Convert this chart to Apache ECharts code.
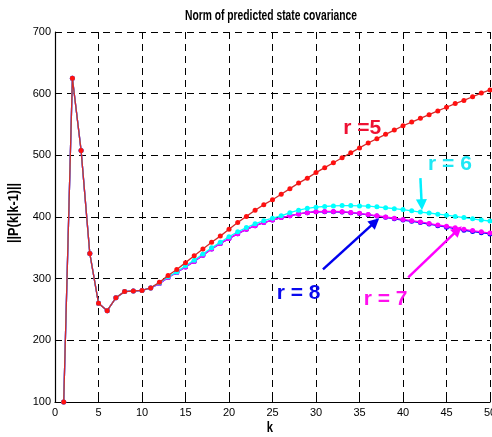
<!DOCTYPE html>
<html>
<head>
<meta charset="utf-8">
<script src="https://cdn.jsdelivr.net/npm/echarts@6/dist/echarts.min.js"></script>
<style>
  html, body { margin: 0; padding: 0; background: #fff; }
  #chart { width: 492px; height: 437px; }
</style>
</head>
<body>
<div id="chart"></div>
<script>
// Norm of the predicted state covariance ||P(k|k-1)|| for k = 1..50, one series per r
const r5 = [100, 625, 508, 341, 260, 248, 269, 279, 280, 281, 285,
  294, 305, 315, 326, 337, 348, 359, 369, 380, 391, 401, 411, 420, 428,
  437, 446, 455, 463, 472, 480, 488, 496, 504, 512, 520, 527, 534, 541, 548,
  554, 560, 566, 572, 578, 584, 589, 595, 601, 606];
const r6 = [100, 625, 508, 341, 260, 248, 269, 279, 280, 281, 285,
  293, 303, 311, 321, 330, 340, 350, 359, 368, 376, 383, 389, 394, 398,
  402, 407, 411, 414, 416, 417, 418, 418.5, 418.5, 418, 417.5, 416.5, 415, 413.5, 412,
  410, 408, 406.5, 404.5, 403, 401, 399, 397, 395, 393.5];
const r7 = [100, 625, 508, 341, 260, 248, 269, 279, 280, 281, 285,
  292, 302, 310, 319, 328, 338, 348, 357, 365, 373, 380, 386, 391, 395,
  399, 402, 405, 407, 408.5, 409, 409, 408.5, 407.5, 406, 404, 402, 400, 398, 396,
  394, 392, 389.5, 387, 385, 382.5, 380, 378, 376, 374];
const r8 = [100, 625, 508, 341, 260, 248, 269, 279, 280, 281, 285,
  292, 302, 310, 319, 328, 338, 348, 357, 365, 373, 380, 386, 391, 395,
  399, 402, 405, 407, 408.5, 408.5, 408.5, 408, 407, 405.5, 403.5, 401.5, 399.5, 397, 395,
  393, 391, 388.5, 386, 383.5, 381, 378.5, 376.5, 374.5, 372.5];

// axis ranges and tick spacing
const xRange = [0, 50], xStep = 5;
const yRange = [100, 700], yStep = 100;

// callout texts and arrows, in data coordinates [k, value]
const notes = [
  { text: 'r =5',  at: [35.3, 544], color: '#ee1133' },
  { text: 'r = 6', at: [45.4, 486], color: '#1ee8f5' },
  { text: 'r = 8', at: [28.0, 277], color: '#0a0aee' },
  { text: 'r = 7', at: [38.0, 266], color: '#ff10ee' }
];
const arrow6 = [[42.0, 463], [42.15, 420]];
const arrow8 = [[30.8, 315], [36.8, 392]];
const arrow7 = [[40.6, 302], [46.3, 379]];

const toPairs = arr => arr.map((v, i) => [i + 1, v]);

function arrowLine(seg, color) {
  return {
    silent: true,
    animation: false,
    symbol: ['none', 'triangle'],
    symbolSize: 11,
    label: { show: false },
    lineStyle: { color: color, width: 2.5, type: 'solid' },
    data: [[{ coord: seg[0] }, { coord: seg[1] }]]
  };
}

function lineSeries(name, data, lineColor, dotColor, z, size) {
  return {
    name: name,
    type: 'line',
    data: toPairs(data),
    z: z,
    symbol: 'circle',
    symbolSize: size,
    showSymbol: true,
    lineStyle: { color: lineColor, width: 1.3 },
    itemStyle: { color: dotColor },
    animation: false
  };
}

const chart = echarts.init(document.getElementById('chart'), null, { renderer: 'canvas' });

const tickFont = { color: '#000', fontSize: 11, fontFamily: 'Liberation Sans, Arial, sans-serif' };
const dashed = { color: '#000', width: 1, type: [7, 5] };

const s8 = lineSeries('r = 8', r8, '#0000ff', '#0000ff', 2, 5);
s8.markLine = arrowLine(arrow8, '#0000ee');
const s7 = lineSeries('r = 7', r7, '#ff00ff', '#ff00ff', 3, 5);
s7.markLine = arrowLine(arrow7, '#ff00ff');
const s6 = lineSeries('r = 6', r6, '#00ffff', '#00ffff', 4, 5);
s6.markLine = arrowLine(arrow6, '#00f0ff');
const s5 = lineSeries('r = 5', r5, '#d42a2a', '#ff1010', 5, 5);

chart.setOption({
  backgroundColor: '#fff',
  animation: false,
  grid: { left: 55, right: 2, top: 32, bottom: 35, containLabel: false, outerBoundsMode: 'none' },
  xAxis: {
    type: 'value', min: xRange[0], max: xRange[1], interval: xStep,
    axisLine: { show: true, onZero: false, lineStyle: { color: '#000', width: 1.2 } },
    axisTick: { show: true, inside: true, length: 5, lineStyle: { color: '#000' } },
    axisLabel: Object.assign({ margin: 5 }, tickFont),
    splitLine: { show: true, lineStyle: dashed }
  },
  yAxis: {
    type: 'value', min: yRange[0], max: yRange[1], interval: yStep,
    axisLine: { show: true, onZero: false, lineStyle: { color: '#000', width: 1.2 } },
    axisTick: { show: true, inside: true, length: 5, lineStyle: { color: '#000' } },
    axisLabel: Object.assign({ margin: 4 }, tickFont),
    splitLine: { show: true, lineStyle: dashed }
  },
  series: [s8, s7, s6, s5]
});

// narrow bold captions: measure, then squeeze horizontally to the wanted width
const ctx = document.createElement('canvas').getContext('2d');
function narrowText(str, font, width) {
  ctx.font = font;
  return width / ctx.measureText(str).width;
}
const capFont = 'bold 15px "Liberation Sans", Arial, sans-serif';
const titleStr = 'Norm of predicted state covariance';
const yNameStr = '||P(k|k-1)||';

const graphics = [
  {
    type: 'text', x: 271, y: 16, scaleX: narrowText(titleStr, capFont, 172), z: 10,
    style: { text: titleStr, font: capFont, fill: '#000', textAlign: 'center', textVerticalAlign: 'middle' }
  },
  {
    type: 'text', x: 270, y: 428, scaleX: 0.75, z: 10,
    style: { text: 'k', font: capFont, fill: '#000', textAlign: 'center', textVerticalAlign: 'middle' }
  },
  {
    type: 'text', x: 14, y: 213, rotation: Math.PI / 2, scaleX: narrowText(yNameStr, capFont, 60), z: 10,
    style: { text: yNameStr, font: capFont, fill: '#000', textAlign: 'center', textVerticalAlign: 'middle' }
  }
];

notes.forEach(n => {
  const p = chart.convertToPixel({ gridIndex: 0 }, n.at);
  graphics.push({
    type: 'text', x: p[0], y: p[1], z: 10,
    style: {
      text: n.text, font: 'bold 21px "Liberation Sans", Arial, sans-serif',
      fill: n.color, textAlign: 'center', textVerticalAlign: 'middle'
    }
  });
});

chart.setOption({ graphic: graphics });
</script>
</body>
</html>
